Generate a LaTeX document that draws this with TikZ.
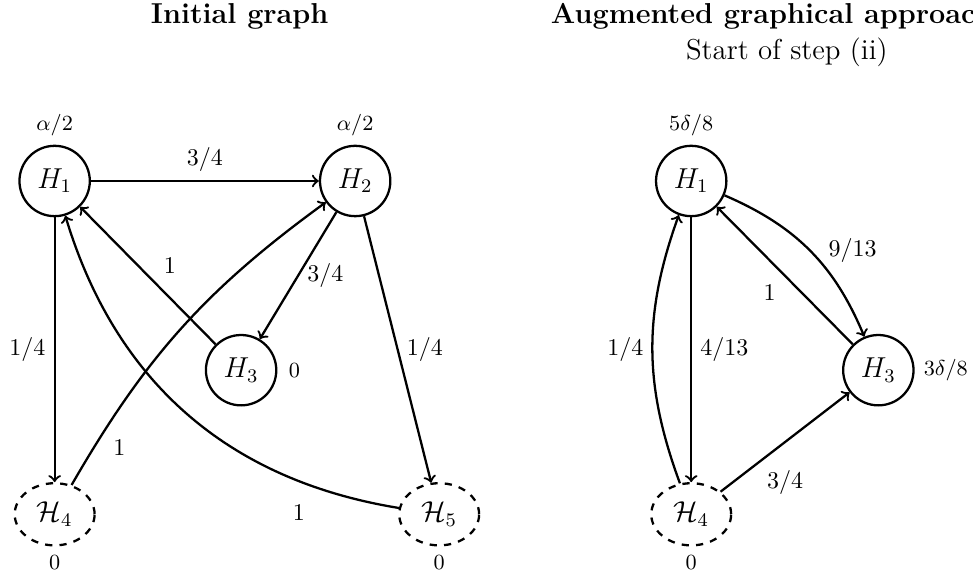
\documentclass[tikz,border=0pt]{standalone}
\usetikzlibrary{positioning,shapes.geometric}

\begin{document}
\begin{tikzpicture}[line width=0.95pt,
   hyp/.style={circle, draw, minimum size=1.03cm, inner sep=0pt, font=\large},
   aux/.style={ellipse, draw, dashed, minimum width=1.17cm, minimum height=0.91cm, inner sep=0pt, font=\large},
   wt/.style={font=\small}]
  \useasboundingbox (0,0) rectangle (14.246,-8.477);
  \clip (0,0) rectangle (14.246,-8.477);
  % titles
  \node[font=\large\bfseries, anchor=base] (t1) at (3.51,-0.351) {Initial graph};
  \node[font=\large\bfseries, anchor=base] (t2) at (11.30,-0.351) {Augmented graphical approach};
  \node[font=\large, anchor=base] (t3) at (11.52,-0.864) {Start of step (ii)};
  % initial graph
  \node[hyp, label={[wt]above:$\alpha/2$}] (h1) at (0.80,-2.65) {$H_1$};
  \node[hyp, label={[wt]above:$\alpha/2$}] (h2) at (5.20,-2.65) {$H_2$};
  \node[hyp, label={[wt, label distance=1pt]right:$0$}] (h3) at (3.53,-5.42) {$H_3$};
  \node[aux, label={[wt]below:$0$}] (h4) at (0.80,-7.53) {$\mathcal{H}_4$};
  \node[aux, label={[wt]below:$0$}] (h5) at (6.43,-7.53) {$\mathcal{H}_5$};
  \draw[->] (h1) -- node[above] {$3/4$} (h2);
  \draw[->] (h1) -- node[left] {$1/4$} (h4);
  \draw[->] (h2) -- node[right] {$3/4$} (h3);
  \draw[->] (h3) -- node[pos=0.45, above right] {$1$} (h1);
  \draw[->] (h2) -- node[right] {$1/4$} (h5);
  \draw[->] (h4) to[bend left=12] node[pos=0.15, below right] {$1$} (h2);
  \draw[->] (h5) to[bend left=32] node[pos=0.21, below=6pt] {$1$} (h1);
  % augmented graph
  \node[hyp, label={[wt]above:$5\delta/8$}] (g1) at (10.12,-2.65) {$H_1$};
  \node[hyp, label={[wt]right:$3\delta/8$}] (g3) at (12.86,-5.42) {$H_3$};
  \node[aux, label={[wt]below:$0$}] (g4) at (10.12,-7.53) {$\mathcal{H}_4$};
  \draw[->] (g1) -- node[right] {$4/13$} (g4);
  \draw[->] (g4) to[bend left=20] node[left] {$1/4$} (g1);
  \draw[->] (g1) to[bend left=22] node[right=4pt] {$9/13$} (g3);
  \draw[->] (g3) -- node[below left] {$1$} (g1);
  \draw[->] (g4) -- node[below=8pt] {$3/4$} (g3);
\end{tikzpicture}
\end{document}
